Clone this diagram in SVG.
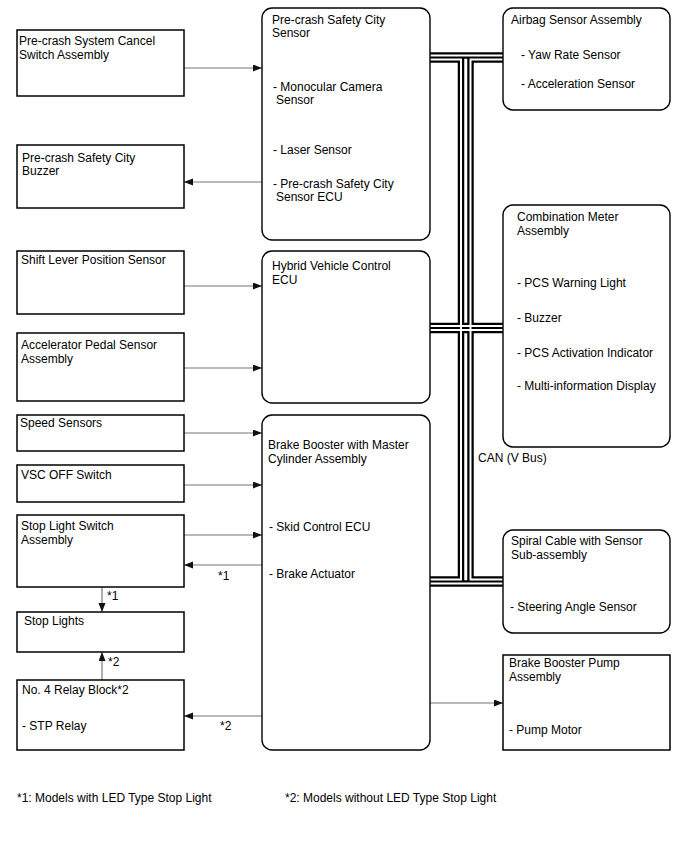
<svg xmlns="http://www.w3.org/2000/svg" width="688" height="852" viewBox="0 0 688 852">
<style>
text{font-family:"Liberation Sans",Arial,sans-serif;font-size:12px;fill:#000}
.sq{fill:#fff;stroke:#000;stroke-width:1.5}
.rd{fill:#fff;stroke:#000;stroke-width:1.4}
.ar{stroke:#777;stroke-width:1.2;fill:none;marker-end:url(#ah)}
.bk{fill:none;stroke:#000;stroke-width:6.5;stroke-linejoin:miter;stroke-linecap:butt}
.wh{fill:none;stroke:#fff;stroke-width:2;stroke-linejoin:miter;stroke-linecap:butt}
</style>
<defs>
<marker id="ah" markerUnits="userSpaceOnUse" markerWidth="10" markerHeight="8" refX="9" refY="3.5" orient="auto">
<path d="M0,0 L9,3.5 L0,7 Z" fill="#111"/>
</marker>
</defs>
<rect width="688" height="852" fill="#fff"/>

<g id="connectors">
<g id="can-bus">
<path class="bk" d="M430,55.5 H503"/>
<path class="bk" d="M430,59.5 H461 V579.5 H430"/>
<path class="bk" d="M503,59.5 H470.5 V579.5 H503"/>
<path class="bk" d="M430,326 H503"/>
<path class="bk" d="M430,330 H503"/>
<path class="bk" d="M430,583.5 H503"/>
<path class="wh" d="M430,55.5 H503"/>
<path class="wh" d="M430,59.5 H461 V579.5 H430"/>
<path class="wh" d="M503,59.5 H470.5 V579.5 H503"/>
<path class="wh" d="M430,326 H503"/>
<path class="wh" d="M430,330 H503"/>
<path class="wh" d="M430,583.5 H503"/>
</g>
<line class="ar" x1="184" y1="68" x2="262" y2="68"/>
<line class="ar" x1="262" y1="182" x2="184" y2="182"/>
<line class="ar" x1="184" y1="286" x2="262" y2="286"/>
<line class="ar" x1="184" y1="368" x2="262" y2="368"/>
<line class="ar" x1="184" y1="433" x2="262" y2="433"/>
<line class="ar" x1="184" y1="485" x2="262" y2="485"/>
<line class="ar" x1="184" y1="535" x2="262" y2="535"/>
<line class="ar" x1="262" y1="565" x2="184" y2="565"/>
<line class="ar" x1="102" y1="587" x2="102" y2="612"/>
<line class="ar" x1="102" y1="680" x2="102" y2="652"/>
<line class="ar" x1="262" y1="716" x2="184" y2="716"/>
<line class="ar" x1="430" y1="703" x2="503" y2="703"/>
<text x="218" y="580">*1</text>
<text x="107" y="600">*1</text>
<text x="108" y="666">*2</text>
<text x="220" y="730">*2</text>
<text x="478" y="462">CAN (V Bus)</text>
</g>

<g id="cancel-switch">
<rect class="sq" x="17" y="30" width="167" height="66"/>
<text x="19" y="44.5">Pre-crash System Cancel</text>
<text x="19" y="58.5">Switch Assembly</text>
</g>
<g id="buzzer">
<rect class="sq" x="17" y="145" width="167" height="63"/>
<text x="22" y="161.5">Pre-crash Safety City</text>
<text x="22" y="175">Buzzer</text>
</g>
<g id="shift-lever">
<rect class="sq" x="17" y="251" width="167" height="63"/>
<text x="21" y="264">Shift Lever Position Sensor</text>
</g>
<g id="accel-pedal">
<rect class="sq" x="17" y="333" width="167" height="68"/>
<text x="21" y="349">Accelerator Pedal Sensor</text>
<text x="21" y="363">Assembly</text>
</g>
<g id="speed-sensors">
<rect class="sq" x="17" y="415" width="167" height="36"/>
<text x="20" y="427">Speed Sensors</text>
</g>
<g id="vsc-off">
<rect class="sq" x="17" y="465" width="167" height="37"/>
<text x="21" y="479">VSC OFF Switch</text>
</g>
<g id="stop-light-switch">
<rect class="sq" x="17" y="515" width="167" height="72"/>
<text x="21" y="530">Stop Light Switch</text>
<text x="21" y="544">Assembly</text>
</g>
<g id="stop-lights">
<rect class="sq" x="17" y="612" width="167" height="40"/>
<text x="24" y="625">Stop Lights</text>
</g>
<g id="relay-block">
<rect class="sq" x="17" y="680" width="167" height="70"/>
<text x="22" y="694">No. 4 Relay Block*2</text>
<text x="22" y="730">- STP Relay</text>
</g>

<g id="pcs-sensor">
<rect class="rd" x="262" y="8" width="168" height="232" rx="10"/>
<text x="272" y="24">Pre-crash Safety City</text>
<text x="272" y="37">Sensor</text>
<text x="273" y="90.5">- Monocular Camera</text>
<text x="276" y="104">Sensor</text>
<text x="273" y="154">- Laser Sensor</text>
<text x="273" y="188">- Pre-crash Safety City</text>
<text x="276" y="201">Sensor ECU</text>
</g>
<g id="hv-ecu">
<rect class="rd" x="262" y="251" width="168" height="152" rx="10"/>
<text x="272" y="270">Hybrid Vehicle Control</text>
<text x="272" y="284">ECU</text>
</g>
<g id="brake-booster">
<rect class="rd" x="262" y="415" width="168" height="335" rx="10"/>
<text x="268" y="449">Brake Booster with Master</text>
<text x="268" y="463">Cylinder Assembly</text>
<text x="269" y="531">- Skid Control ECU</text>
<text x="269" y="578">- Brake Actuator</text>
</g>

<g id="airbag">
<rect class="rd" x="503" y="8" width="167" height="102" rx="10"/>
<text x="511" y="24">Airbag Sensor Assembly</text>
<text x="521" y="59">- Yaw Rate Sensor</text>
<text x="521" y="88">- Acceleration Sensor</text>
</g>
<g id="combination-meter">
<rect class="rd" x="503" y="205" width="167" height="242" rx="10"/>
<text x="517" y="221">Combination Meter</text>
<text x="517" y="235">Assembly</text>
<text x="517" y="287">- PCS Warning Light</text>
<text x="517" y="322">- Buzzer</text>
<text x="517" y="357">- PCS Activation Indicator</text>
<text x="517" y="390">- Multi-information Display</text>
</g>
<g id="spiral-cable">
<rect class="rd" x="503" y="530" width="167" height="103" rx="10"/>
<text x="511" y="545">Spiral Cable with Sensor</text>
<text x="511" y="559">Sub-assembly</text>
<text x="510" y="611">- Steering Angle Sensor</text>
</g>
<g id="pump">
<rect class="sq" x="503" y="655" width="167" height="95"/>
<text x="509" y="667">Brake Booster Pump</text>
<text x="509" y="681">Assembly</text>
<text x="509" y="734">- Pump Motor</text>
</g>

<g id="footnotes">
<text x="17" y="802">*1: Models with LED Type Stop Light</text>
<text x="285" y="802">*2: Models without LED Type Stop Light</text>
</g>
</svg>
